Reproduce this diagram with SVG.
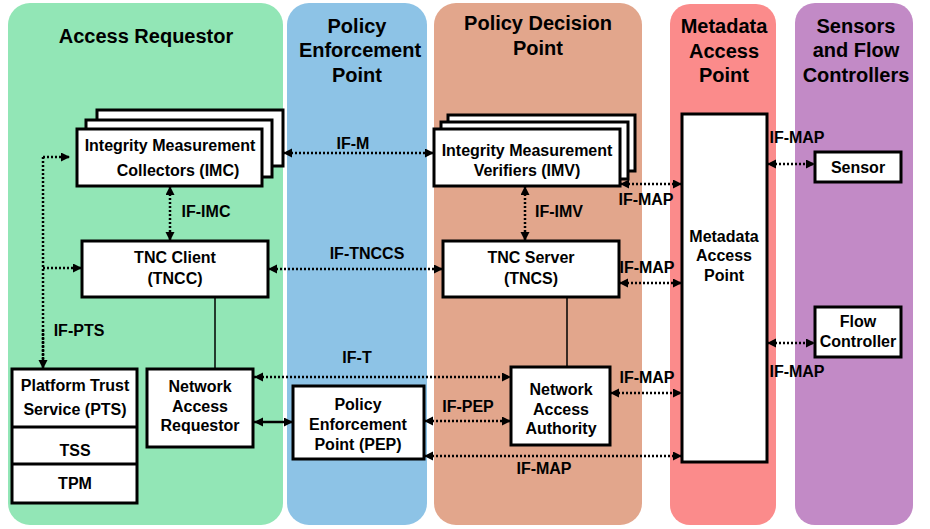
<svg xmlns="http://www.w3.org/2000/svg" width="930" height="529" viewBox="0 0 930 529">
<style>
text{font-family:"Liberation Sans",Arial,sans-serif;font-weight:bold;fill:#000;text-anchor:middle}
.h{font-size:20px}
.t{font-size:16px}
.box{fill:#fff;stroke:#000;stroke-width:3}
.dot{fill:none;stroke:#000;stroke-width:2.5;stroke-dasharray:2 2}
.sol{fill:none;stroke:#000;stroke-width:1.5}
.ar{marker-start:url(#ah);marker-end:url(#ah)}
</style>
<defs>
<marker id="ah" markerUnits="userSpaceOnUse" markerWidth="10" markerHeight="10" refX="9" refY="4.5" orient="auto-start-reverse">
<path d="M0,0 L9,4.5 L0,9 z" fill="#000"/>
</marker>
</defs>
<rect width="930" height="529" fill="#fff"/>
<g id="lanes">
<rect x="8" y="3" width="275" height="522" rx="22" fill="#92e6b6"/>
<rect x="287" y="3" width="140" height="522" rx="22" fill="#8dc3e6"/>
<rect x="434" y="3" width="208" height="522" rx="22" fill="#e2a68c"/>
<rect x="670" y="4" width="106" height="521" rx="20" fill="#fb8b8b"/>
<rect x="795" y="3" width="118" height="522" rx="20" fill="#c28ac6"/>
<text class="h" x="146" y="43">Access Requestor</text>
<text class="h" x="357" y="33">Policy</text>
<text class="h" x="360" y="57">Enforcement</text>
<text class="h" x="357" y="82">Point</text>
<text class="h" x="538" y="30">Policy Decision</text>
<text class="h" x="538" y="55">Point</text>
<text class="h" x="724" y="33">Metadata</text>
<text class="h" x="724" y="58">Access</text>
<text class="h" x="724" y="82">Point</text>
<text class="h" x="856" y="33">Sensors</text>
<text class="h" x="856" y="57">and Flow</text>
<text class="h" x="856" y="82">Controllers</text>
</g>
<g id="connectors">
<path class="dot ar" d="M283,153 L434,153"/>
<text class="t" x="353" y="149">IF-M</text>
<path class="dot ar" d="M170,186 L170,241"/>
<text class="t" x="206" y="217">IF-IMC</text>
<path class="dot ar" d="M525,186 L525,241"/>
<text class="t" x="559" y="217">IF-IMV</text>
<path class="dot ar" d="M268,269 L443,269"/>
<text class="t" x="367" y="259">IF-TNCCS</text>
<path class="dot ar" d="M620,184 L682,184"/>
<text class="t" x="646" y="205">IF-MAP</text>
<path class="dot ar" d="M619,283 L682,283"/>
<text class="t" x="647" y="273">IF-MAP</text>
<path class="dot ar" d="M767,164 L815,164"/>
<text class="t" x="797" y="143">IF-MAP</text>
<path class="dot ar" d="M767,343 L815,343"/>
<text class="t" x="797" y="377">IF-MAP</text>
<path class="dot" d="M43,157 L43,360"/>
<path class="dot" d="M43,157 L70,157" marker-end="url(#ah)"/>
<path class="dot" d="M43,268 L82,268" marker-end="url(#ah)"/>
<path class="dot" d="M43,330 L43,369" marker-end="url(#ah)"/>
<text class="t" x="79" y="336">IF-PTS</text>
<path class="sol" d="M215,297 L215,369"/>
<path class="sol" d="M567,297 L567,367"/>
<path class="dot ar" d="M254,377 L511,377"/>
<text class="t" x="357" y="363">IF-T</text>
<path class="ar" d="M254,422 L293,422" stroke="#000" stroke-width="2.5" fill="none"/>
<path class="dot ar" d="M424,421 L511,421"/>
<text class="t" x="468" y="412">IF-PEP</text>
<path class="dot ar" d="M610,393 L682,393"/>
<text class="t" x="647" y="383">IF-MAP</text>
<path class="dot ar" d="M424,456 L682,456"/>
<text class="t" x="544" y="474">IF-MAP</text>
</g>
<g id="imc">
<rect class="box" x="97" y="110" width="186" height="56"/>
<rect class="box" x="86" y="120" width="186" height="57"/>
<rect class="box" x="77" y="129" width="185" height="57"/>
<text class="t" x="170" y="151">Integrity Measurement</text>
<text class="t" x="178" y="176">Collectors (IMC)</text>
</g>
<g id="imv">
<rect class="box" x="448" y="115" width="187" height="56"/>
<rect class="box" x="441" y="122" width="187" height="57"/>
<rect class="box" x="434" y="129" width="186" height="57"/>
<text class="t" x="527" y="156">Integrity Measurement</text>
<text class="t" x="527" y="176">Verifiers (IMV)</text>
</g>
<g id="tncc">
<rect class="box" x="82" y="241" width="186" height="56"/>
<text class="t" x="175" y="263">TNC Client</text>
<text class="t" x="175" y="284">(TNCC)</text>
</g>
<g id="tncs">
<rect class="box" x="443" y="241" width="176" height="56"/>
<text class="t" x="531" y="263">TNC  Server</text>
<text class="t" x="531" y="284">(TNCS)</text>
</g>
<g id="map">
<rect class="box" x="682" y="114" width="85" height="348"/>
<text class="t" x="724" y="242">Metadata</text>
<text class="t" x="724" y="261">Access</text>
<text class="t" x="724" y="281">Point</text>
</g>
<g id="sensor">
<rect class="box" x="815" y="152" width="86" height="30"/>
<text class="t" x="858" y="173">Sensor</text>
</g>
<g id="flow">
<rect class="box" x="815" y="307" width="86" height="50"/>
<text class="t" x="858" y="327">Flow</text>
<text class="t" x="858" y="347">Controller</text>
</g>
<g id="pts">
<rect class="box" x="12" y="369" width="125" height="134"/>
<path d="M12,427 L137,427 M12,464 L137,464" stroke="#000" stroke-width="3"/>
<text class="t" x="75" y="391">Platform Trust</text>
<text class="t" x="75" y="415">Service (PTS)</text>
<text class="t" x="75" y="456">TSS</text>
<text class="t" x="75" y="489">TPM</text>
</g>
<g id="nar">
<rect class="box" x="147" y="369" width="106" height="78"/>
<text class="t" x="200" y="392">Network</text>
<text class="t" x="200" y="412">Access</text>
<text class="t" x="200" y="431">Requestor</text>
</g>
<g id="pep">
<rect class="box" x="293" y="386" width="131" height="73"/>
<text class="t" x="358" y="410">Policy</text>
<text class="t" x="358" y="430">Enforcement</text>
<text class="t" x="358" y="450">Point (PEP)</text>
</g>
<g id="naa">
<rect class="box" x="511" y="367" width="99" height="78"/>
<text class="t" x="561" y="395">Network</text>
<text class="t" x="561" y="415">Access</text>
<text class="t" x="561" y="434">Authority</text>
</g>
</svg>
